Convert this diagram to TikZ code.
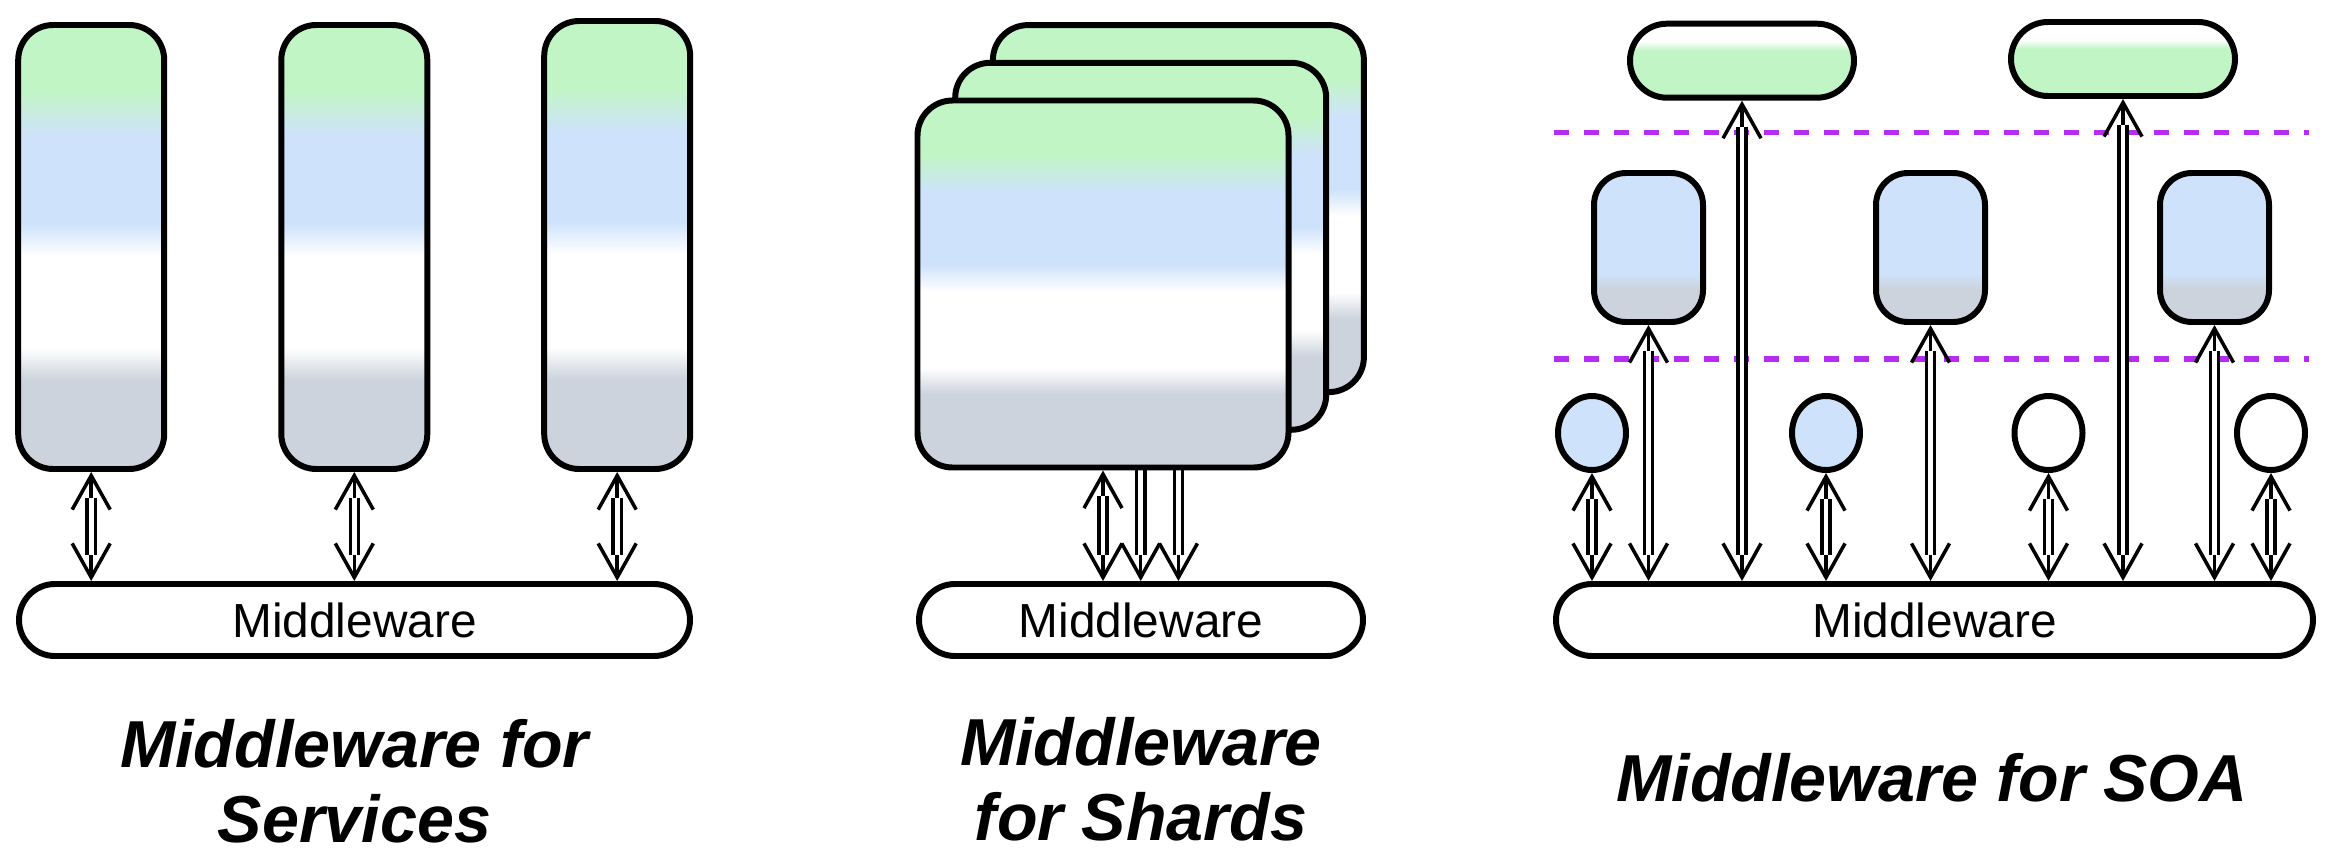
\documentclass[tikz,border=0pt]{standalone}
\usepackage{fontspec}
\setmainfont{Liberation Sans}
\usetikzlibrary{arrows.meta,shapes.geometric}

\definecolor{tiergreen}{RGB}{194,245,198}
\definecolor{tierblue}{RGB}{206,227,251}
\definecolor{tiergray}{RGB}{204,211,220}
\definecolor{tierline}{RGB}{182,44,240}

% bottom to top: data, (empty), logic, presentation
\pgfdeclareverticalshading{tiershade}{100bp}{color(0bp)=(tiergray); color(35bp)=(tiergray);
  color(38.6bp)=(white); color(49bp)=(white); color(52.6bp)=(tierblue); color(62.6bp)=(tierblue);
  color(67.5bp)=(tiergreen); color(100bp)=(tiergreen)}
\pgfdeclareverticalshading{presshade}{100bp}{color(0bp)=(tiergreen); color(57bp)=(tiergreen);
  color(63bp)=(white); color(100bp)=(white)}
\pgfdeclareverticalshading{logicshade}{100bp}{color(0bp)=(tiergray); color(36bp)=(tiergray);
  color(41.5bp)=(tierblue); color(100bp)=(tierblue)}

\tikzset{
  tierbox/.style={draw, line width=1.7pt, rounded corners=0.35cm, inner sep=0pt},
  storenode/.style={tierbox, ellipse, minimum width=0.68cm, minimum height=0.74cm},
  mwbox/.style={tierbox, rounded corners=0.36cm, fill=white, minimum height=0.72cm,
    font=\fontsize{13.6}{16}\selectfont},
  tierdash/.style={draw=tierline, line width=1.5pt, dash pattern=on 0.15cm off 0.15cm},
  pipe/.style={line width=1pt,
    postaction={draw, arrows=-, double, double distance=1.4pt, line width=0.95pt,
      shorten <=#1, shorten >=2.6mm}},
  twoway/.style={pipe=2.6mm, {Straight Barb[length=3.4mm,width=3.8mm]}-{Straight Barb[length=3.4mm,width=3.8mm]}},
  oneway/.style={pipe=0mm, -{Straight Barb[length=3.4mm,width=3.8mm]}},
  paneltitle/.style={align=center, anchor=north, inner sep=0pt,
    font=\bfseries\itshape\fontsize{18.9}{21.3}\selectfont}
}

\begin{document}
\begin{tikzpicture}
    \useasboundingbox (0,0) rectangle (23.29,-8.63);

    % Services
    \node[tierbox, shading=tiershade, minimum width=1.46cm, minimum height=4.44cm] (svc1) at (0.912,-2.47) {};
    \node[tierbox, shading=tiershade, minimum width=1.46cm, minimum height=4.44cm] (svc2) at (3.543,-2.47) {};
    \node[tierbox, shading=tiershade, minimum width=1.46cm, minimum height=4.48cm] (svc3) at (6.172,-2.45) {};
    \node[mwbox, minimum width=6.71cm] (mw1) at (3.545,-6.20) {Middleware};
    \draw[twoway] (svc1.south) -- (svc1.south |- mw1.north);
    \draw[twoway] (svc2.south) -- (svc2.south |- mw1.north);
    \draw[twoway] (svc3.south) -- (svc3.south |- mw1.north);
    \node[paneltitle] (title1) at (3.545,-7.19) {Middleware for\\Services};

    % Shards
    \node[tierbox, shading=tiershade, minimum width=3.71cm, minimum height=3.67cm] (shard3) at (11.784,-2.086) {};
    \node[tierbox, shading=tiershade, minimum width=3.71cm, minimum height=3.67cm] (shard2) at (11.407,-2.463) {};
    \node[mwbox, minimum width=4.44cm] (mw2) at (11.41,-6.20) {Middleware};
    \draw[oneway] (shard3.south) -- (shard3.south |- mw2.north);
    \draw[oneway] (shard2.south) -- (shard2.south |- mw2.north);
    \node[tierbox, shading=tiershade, minimum width=3.71cm, minimum height=3.67cm] (shard1) at (11.03,-2.84) {};
    \draw[twoway] (shard1.south) -- (shard1.south |- mw2.north);
    \node[paneltitle] (title2) at (11.41,-7.17) {Middleware\\for Shards};

    % SOA
    \draw[tierdash] (15.54,-1.327) -- (23.09,-1.327);
    \draw[tierdash] (15.54,-3.59) -- (23.09,-3.59);
    \node[tierbox, shading=presshade, rounded corners=0.37cm, minimum width=2.24cm, minimum height=0.74cm] (pres1) at (17.42,-0.607) {};
    \node[tierbox, shading=presshade, rounded corners=0.37cm, minimum width=2.24cm, minimum height=0.74cm] (pres2) at (21.23,-0.59) {};
    \node[tierbox, shading=logicshade, rounded corners=0.32cm, minimum width=1.09cm, minimum height=1.49cm] (logic1) at (16.485,-2.475) {};
    \node[tierbox, shading=logicshade, rounded corners=0.32cm, minimum width=1.09cm, minimum height=1.49cm] (logic2) at (19.305,-2.475) {};
    \node[tierbox, shading=logicshade, rounded corners=0.32cm, minimum width=1.09cm, minimum height=1.49cm] (logic3) at (22.145,-2.475) {};
    \node[storenode, fill=tierblue] (store1) at (15.92,-4.33) {};
    \node[storenode, fill=tierblue] (store2) at (18.26,-4.33) {};
    \node[storenode, fill=white] (store3) at (20.485,-4.33) {};
    \node[storenode, fill=white] (store4) at (22.71,-4.33) {};
    \node[mwbox, minimum width=7.57cm] (mw3) at (19.345,-6.20) {Middleware};
    \draw[twoway] (store1.south) -- (store1.south |- mw3.north);
    \draw[twoway] (logic1.south) -- (logic1.south |- mw3.north);
    \draw[twoway] (pres1.south) -- (pres1.south |- mw3.north);
    \draw[twoway] (store2.south) -- (store2.south |- mw3.north);
    \draw[twoway] (logic2.south) -- (logic2.south |- mw3.north);
    \draw[twoway] (store3.south) -- (store3.south |- mw3.north);
    \draw[twoway] (pres2.south) -- (pres2.south |- mw3.north);
    \draw[twoway] (logic3.south) -- (logic3.south |- mw3.north);
    \draw[twoway] (store4.south) -- (store4.south |- mw3.north);
    \node[paneltitle] (title3) at (19.32,-7.53) {Middleware for SOA};
\end{tikzpicture}
\end{document}
